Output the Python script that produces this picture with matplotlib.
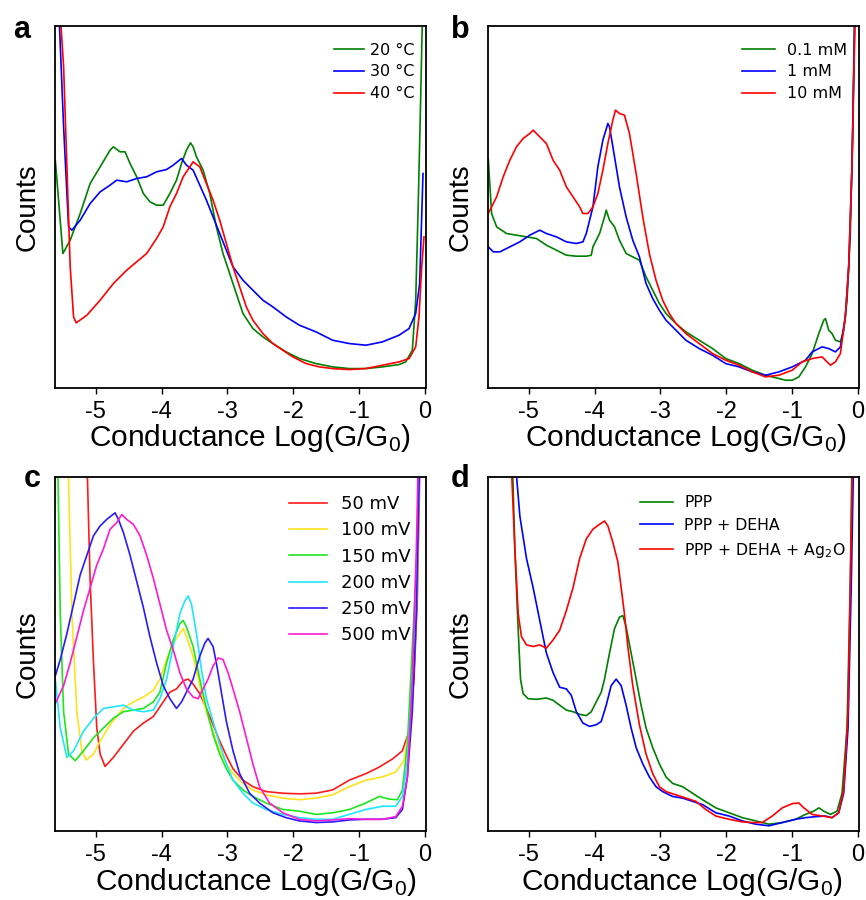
import numpy as np
import matplotlib
matplotlib.use("Agg")
import matplotlib.pyplot as plt

plt.rcParams['font.family'] = ['Liberation Sans', 'DejaVu Sans']
plt.rcParams['mathtext.fontset'] = 'custom'
plt.rcParams['mathtext.rm'] = 'Liberation Sans'

# x: Log(G/G0), y: counts (arbitrary units)

# panel a - temperature
a20_x = [-5.615, -5.500, -5.389, -5.237, -5.086, -4.934, -4.783, -4.733, -4.632, -4.556, -4.480, -4.379,
         -4.278, -4.178, -4.077, -3.976, -3.875, -3.774, -3.698, -3.623, -3.562, -3.522, -3.471, -3.370,
         -3.269, -3.169, -3.068, -2.967, -2.866, -2.765, -2.614, -2.462, -2.311, -2.109, -1.907, -1.655,
         -1.403, -1.150, -0.898, -0.646, -0.394, -0.293, -0.192, -0.141, -0.101, -0.066, -0.035]
a20_y = [68.3, 40.3, 44.3, 52.3, 61.3, 66.3, 71.3, 72.3, 70.8, 70.8, 67.3, 63.3,
         58.3, 55.8, 54.8, 54.8, 58.3, 62.3, 67.3, 71.3, 73.5, 72.3, 69.3, 65.3,
         58.3, 48.3, 40.3, 34.3, 28.3, 22.3, 17.8, 15.3, 13.3, 10.8, 8.8, 7.3,
         6.3, 5.8, 5.8, 6.3, 7.0, 7.8, 11.3, 26.3, 56.3, 86.3, 115]
a30_x = [-5.565, -5.489, -5.414, -5.363, -5.237, -5.086, -4.934, -4.783, -4.682, -4.531, -4.379, -4.228,
         -4.077, -3.925, -3.824, -3.698, -3.623, -3.522, -3.421, -3.320, -3.219, -3.118, -3.017, -2.916,
         -2.765, -2.614, -2.462, -2.311, -2.109, -1.907, -1.655, -1.403, -1.150, -0.898, -0.646, -0.394,
         -0.242, -0.141, -0.081, -0.050, -0.030]
a30_y = [115, 78.3, 48.3, 47.3, 50.3, 55.3, 58.8, 60.8, 62.3, 61.8, 62.8, 63.3,
         64.8, 65.5, 66.8, 68.8, 66.8, 65.3, 60.8, 56.3, 51.3, 46.3, 41.3, 36.3,
         32.3, 29.3, 26.3, 24.3, 21.3, 18.8, 16.8, 14.3, 13.3, 12.8, 13.8, 15.8,
         17.8, 22.3, 31.3, 51.3, 64.3]
a40_x = [-5.550, -5.489, -5.439, -5.389, -5.338, -5.298, -5.136, -4.934, -4.733, -4.531, -4.379, -4.228,
         -4.077, -3.976, -3.875, -3.774, -3.673, -3.572, -3.522, -3.421, -3.320, -3.219, -3.118, -3.017,
         -2.916, -2.815, -2.714, -2.614, -2.462, -2.311, -2.159, -2.008, -1.806, -1.604, -1.403, -1.150,
         -0.898, -0.646, -0.394, -0.242, -0.141, -0.091, -0.050, -0.015]
a40_y = [115, 96.3, 66.3, 36.3, 21.3, 19.5, 21.8, 26.3, 31.3, 35.3, 37.8, 40.3,
         44.8, 48.3, 54.3, 58.3, 63.3, 66.3, 67.8, 66.3, 61.3, 56.3, 50.3, 43.3,
         36.3, 30.3, 24.3, 20.3, 16.3, 13.3, 11.3, 9.3, 7.3, 6.3, 5.8, 5.5,
         5.8, 6.8, 7.8, 8.8, 12.3, 21.3, 36.3, 45.3]

# panel b - concentration
b01_x = [-5.615, -5.565, -5.489, -5.338, -5.187, -5.035, -4.884, -4.733, -4.581, -4.430, -4.278, -4.127,
         -4.051, -4.026, -3.925, -3.850, -3.824, -3.774, -3.698, -3.623, -3.522, -3.421, -3.320, -3.219,
         -3.118, -3.017, -2.916, -2.765, -2.614, -2.412, -2.210, -2.008, -1.806, -1.604, -1.403, -1.201,
         -1.100, -0.999, -0.898, -0.797, -0.696, -0.595, -0.520, -0.494, -0.444, -0.394, -0.343, -0.267,
         -0.217, -0.166, -0.116, -0.081, -0.050]
b01_y = [68.3, 52.3, 48.3, 46.3, 45.8, 45.3, 44.8, 42.8, 41.3, 39.8, 39.5, 39.5,
         39.8, 42.3, 46.3, 51.3, 53.3, 50.3, 48.3, 44.3, 40.3, 39.3, 38.3, 33.3,
         29.3, 25.3, 22.3, 19.3, 16.8, 14.3, 11.8, 8.8, 7.3, 5.3, 3.8, 2.8,
         2.3, 2.3, 3.3, 6.3, 10.3, 16.3, 20.3, 20.8, 17.3, 16.3, 14.3, 13.8,
         17.3, 26.3, 46.3, 76.3, 115]
b1_x = [-5.615, -5.540, -5.439, -5.288, -5.136, -4.985, -4.834, -4.733, -4.581, -4.430, -4.278, -4.178,
        -4.127, -4.026, -3.951, -3.875, -3.799, -3.774, -3.698, -3.623, -3.522, -3.421, -3.320, -3.219,
        -3.118, -3.017, -2.916, -2.765, -2.614, -2.412, -2.210, -2.008, -1.806, -1.604, -1.403, -1.201,
        -0.999, -0.797, -0.696, -0.545, -0.444, -0.343, -0.267, -0.192, -0.141, -0.091, -0.045]
b1_y = [42.3, 40.8, 40.8, 42.3, 43.8, 45.8, 47.3, 46.3, 45.3, 43.8, 43.3, 43.8,
        46.3, 54.3, 66.3, 74.3, 79.3, 78.3, 69.3, 60.3, 51.3, 44.3, 39.3, 31.3,
        26.8, 23.3, 20.3, 17.3, 14.3, 11.8, 9.8, 7.3, 6.3, 4.8, 3.8, 4.8,
        6.3, 8.3, 10.8, 12.3, 11.8, 10.8, 12.3, 21.3, 36.3, 66.3, 115]
b10_x = [-5.615, -5.565, -5.489, -5.389, -5.288, -5.187, -5.086, -4.985, -4.934, -4.834, -4.733, -4.632,
         -4.531, -4.430, -4.329, -4.228, -4.178, -4.102, -4.026, -3.951, -3.875, -3.799, -3.724, -3.683,
         -3.623, -3.547, -3.471, -3.370, -3.269, -3.169, -3.068, -2.967, -2.866, -2.765, -2.614, -2.412,
         -2.210, -2.008, -1.806, -1.604, -1.403, -1.201, -0.999, -0.848, -0.696, -0.545, -0.469, -0.419,
         -0.343, -0.267, -0.192, -0.141, -0.091, -0.040]
b10_y = [52.3, 54.3, 57.3, 63.3, 68.3, 72.3, 74.8, 76.3, 77.3, 75.3, 73.3, 68.3,
         65.3, 60.3, 57.3, 54.3, 52.3, 52.3, 54.3, 58.3, 65.3, 73.3, 80.3, 83.3,
         82.3, 81.8, 76.3, 64.3, 51.3, 40.3, 32.3, 26.3, 22.3, 19.3, 16.3, 13.3,
         10.3, 8.3, 6.8, 4.8, 3.3, 3.8, 5.3, 7.8, 8.8, 9.3, 7.8, 6.8,
         7.8, 10.3, 21.3, 36.3, 66.3, 115]

# panel c - bias voltage
c50_x = [-5.136, -5.086, -5.035, -4.985, -4.934, -4.859, -4.733, -4.581, -4.430, -4.278, -4.127, -3.976,
         -3.875, -3.774, -3.673, -3.597, -3.522, -3.421, -3.320, -3.219, -3.118, -3.017, -2.916, -2.765,
         -2.614, -2.412, -2.159, -1.907, -1.655, -1.403, -1.150, -0.898, -0.696, -0.494, -0.343, -0.242,
         -0.166, -0.116, -0.075]
c50_y = [115, 76.5, 51.5, 31.5, 23.5, 19.7, 22.5, 26.5, 30.5, 33.0, 35.0, 39.5,
         42.5, 43.5, 46.0, 46.5, 45.0, 42.0, 37.5, 32.5, 27.5, 23.0, 19.0, 15.5,
         13.5, 12.0, 11.5, 11.3, 11.5, 12.5, 15.5, 17.5, 19.5, 22.0, 24.5, 30.5,
         46.5, 71.5, 115]
c100_x = [-5.424, -5.363, -5.288, -5.212, -5.146, -5.035, -4.934, -4.783, -4.581, -4.430, -4.278, -4.127,
          -4.026, -3.925, -3.824, -3.724, -3.673, -3.623, -3.522, -3.421, -3.320, -3.219, -3.118, -3.017,
          -2.916, -2.765, -2.614, -2.412, -2.159, -1.907, -1.655, -1.403, -1.150, -0.898, -0.646, -0.444,
          -0.318, -0.242, -0.166, -0.116, -0.081]
c100_y = [115, 66.5, 36.5, 24.5, 21.7, 23.5, 27.5, 32.5, 37.5, 39.5, 41.0, 43.0,
          46.5, 52.5, 57.5, 60.5, 62.0, 59.5, 53.5, 44.5, 36.5, 30.5, 24.5, 20.5,
          17.5, 14.5, 12.5, 11.0, 10.0, 9.5, 10.0, 11.0, 13.5, 15.5, 16.5, 18.0,
          21.5, 31.5, 51.5, 76.5, 115]
c150_x = [-5.580, -5.540, -5.489, -5.414, -5.313, -5.187, -5.035, -4.884, -4.733, -4.581, -4.430, -4.278,
          -4.127, -4.026, -3.925, -3.824, -3.724, -3.673, -3.623, -3.522, -3.421, -3.320, -3.219, -3.118,
          -3.017, -2.916, -2.765, -2.614, -2.412, -2.159, -1.907, -1.655, -1.403, -1.150, -0.898, -0.696,
          -0.545, -0.419, -0.343, -0.267, -0.192, -0.116, -0.081]
c150_y = [115, 66.5, 36.5, 23.5, 21.5, 24.5, 28.5, 31.5, 34.5, 36.5, 37.0, 37.5,
          39.5, 42.5, 51.5, 58.5, 63.5, 64.5, 62.5, 56.5, 46.5, 37.5, 29.5, 23.5,
          19.0, 15.5, 12.5, 10.5, 8.5, 6.5, 6.0, 5.0, 5.5, 6.5, 8.5, 10.5,
          9.7, 9.5, 12.5, 26.5, 56.5, 86.5, 115]
c200_x = [-5.615, -5.540, -5.439, -5.338, -5.187, -5.035, -4.884, -4.733, -4.581, -4.430, -4.278, -4.127,
          -4.026, -3.925, -3.824, -3.724, -3.648, -3.597, -3.547, -3.471, -3.396, -3.320, -3.219, -3.118,
          -3.017, -2.916, -2.765, -2.614, -2.412, -2.159, -1.907, -1.655, -1.403, -1.150, -0.898, -0.646,
          -0.444, -0.343, -0.267, -0.192, -0.116, -0.081]
c200_y = [46.5, 31.5, 22.5, 24.5, 30.5, 34.5, 37.5, 38.0, 38.5, 37.0, 36.5, 37.0,
          40.5, 46.5, 56.5, 66.5, 70.5, 72.0, 69.5, 60.5, 49.5, 40.5, 33.5, 26.5,
          20.5, 15.5, 11.5, 8.5, 6.5, 5.0, 4.0, 3.5, 3.5, 5.0, 6.5, 7.5,
          7.5, 10.5, 21.5, 46.5, 86.5, 115]
c250_x = [-5.615, -5.540, -5.439, -5.338, -5.237, -5.136, -5.035, -4.934, -4.834, -4.707, -4.657, -4.581,
          -4.480, -4.379, -4.278, -4.178, -4.077, -3.976, -3.875, -3.774, -3.698, -3.623, -3.522, -3.421,
          -3.345, -3.295, -3.219, -3.169, -3.093, -3.017, -2.916, -2.815, -2.664, -2.513, -2.311, -2.109,
          -1.907, -1.655, -1.403, -1.150, -0.898, -0.646, -0.444, -0.343, -0.267, -0.192, -0.131, -0.081]
c250_y = [47.5, 52.5, 60.5, 69.5, 78.5, 84.5, 90.5, 93.5, 95.5, 97.5, 95.5, 91.5,
          84.5, 76.5, 68.5, 59.5, 51.5, 44.5, 40.5, 37.5, 39.5, 42.5, 46.5, 53.5,
          57.5, 59.0, 56.5, 51.5, 42.5, 33.5, 24.5, 17.5, 11.5, 8.5, 5.5, 4.0,
          3.0, 2.5, 2.7, 3.3, 3.5, 3.5, 4.0, 6.5, 16.5, 36.5, 66.5, 115]
c500_x = [-5.615, -5.489, -5.389, -5.288, -5.187, -5.086, -4.985, -4.884, -4.783, -4.682, -4.606, -4.531,
          -4.430, -4.329, -4.228, -4.127, -4.026, -3.925, -3.824, -3.724, -3.623, -3.522, -3.446, -3.370,
          -3.295, -3.219, -3.143, -3.068, -2.992, -2.916, -2.815, -2.714, -2.614, -2.513, -2.361, -2.159,
          -1.907, -1.655, -1.403, -1.150, -0.898, -0.646, -0.444, -0.343, -0.267, -0.192, -0.131, -0.101]
c500_y = [39.0, 44.5, 51.5, 59.5, 67.5, 74.5, 81.5, 86.5, 92.5, 94.5, 97.0, 95.5,
          94.0, 90.5, 84.5, 77.5, 69.5, 61.5, 55.5, 48.5, 43.5, 41.0, 40.5, 43.5,
          46.5, 50.5, 53.0, 52.5, 48.5, 43.5, 36.5, 28.5, 20.5, 13.5, 8.5, 5.5,
          3.5, 3.0, 3.3, 3.7, 3.5, 3.5, 4.3, 7.5, 16.5, 46.5, 86.5, 115]

# panel d - additives
dppp_x = [-5.252, -5.212, -5.161, -5.126, -5.086, -5.010, -4.884, -4.733, -4.632, -4.531, -4.430, -4.329,
          -4.228, -4.127, -4.051, -3.976, -3.900, -3.850, -3.774, -3.698, -3.623, -3.572, -3.522, -3.446,
          -3.370, -3.295, -3.219, -3.118, -3.017, -2.916, -2.815, -2.664, -2.513, -2.361, -2.159, -1.958,
          -1.756, -1.554, -1.352, -1.150, -0.949, -0.797, -0.671, -0.595, -0.520, -0.419, -0.318, -0.242,
          -0.166, -0.116, -0.091]
dppp_y = [115, 86.5, 61.5, 46.5, 42.0, 40.5, 40.3, 40.7, 40.0, 38.5, 37.0, 36.5,
          35.7, 35.3, 36.5, 39.5, 42.5, 46.5, 54.5, 62.0, 65.5, 66.0, 62.5, 54.5,
          46.5, 38.5, 31.5, 25.5, 20.5, 16.5, 14.5, 13.5, 11.5, 9.5, 7.0, 5.5,
          4.0, 3.0, 2.0, 2.5, 3.5, 5.0, 6.0, 7.0, 6.0, 5.0, 6.0, 11.5,
          31.5, 76.5, 115]
ddeha_x = [-5.212, -5.136, -5.035, -4.934, -4.834, -4.733, -4.632, -4.531, -4.430, -4.354, -4.278, -4.178,
           -4.077, -3.976, -3.900, -3.824, -3.749, -3.673, -3.597, -3.522, -3.446, -3.370, -3.269, -3.169,
           -3.068, -2.967, -2.815, -2.664, -2.513, -2.361, -2.159, -1.958, -1.756, -1.554, -1.352, -1.150,
           -0.949, -0.797, -0.646, -0.494, -0.394, -0.293, -0.217, -0.151, -0.101, -0.066]
ddeha_y = [115, 96.5, 83.5, 74.5, 64.5, 54.5, 48.5, 44.0, 43.5, 41.5, 36.5, 33.0,
           32.0, 32.5, 33.5, 38.5, 44.5, 46.5, 44.5, 38.5, 31.5, 25.5, 20.5, 16.5,
           13.5, 12.0, 10.5, 10.0, 9.0, 8.0, 5.5, 4.5, 3.0, 2.0, 1.5, 2.5,
           3.5, 4.0, 4.3, 4.5, 4.0, 5.5, 11.5, 31.5, 76.5, 115]
dag_x = [-5.272, -5.212, -5.161, -5.111, -5.035, -4.934, -4.834, -4.733, -4.632, -4.531, -4.430, -4.329,
         -4.228, -4.127, -4.026, -3.925, -3.850, -3.799, -3.724, -3.648, -3.597, -3.547, -3.496, -3.421,
         -3.320, -3.219, -3.118, -3.017, -2.916, -2.765, -2.614, -2.462, -2.311, -2.159, -1.958, -1.756,
         -1.604, -1.453, -1.302, -1.150, -0.999, -0.898, -0.822, -0.696, -0.545, -0.394, -0.293, -0.217,
         -0.151, -0.116, -0.081]
dag_y = [115, 86.5, 66.5, 59.5, 57.0, 56.5, 57.0, 56.0, 58.5, 61.5, 67.5, 74.5,
         83.5, 89.5, 92.5, 94.0, 95.0, 93.5, 88.5, 82.5, 74.5, 66.5, 56.5, 44.5,
         32.5, 23.5, 17.5, 13.5, 12.0, 11.0, 10.0, 9.0, 6.5, 4.5, 3.5, 2.7,
         2.5, 2.5, 4.5, 7.0, 8.3, 8.5, 7.0, 5.0, 4.5, 4.0, 5.5, 12.5,
         36.5, 76.5, 115]

xticks = [-5, -4, -3, -2, -1, 0]
xticklabels = ['-5', '-4', '-3', '-2', '-1', '0']

panels = [
    ('a', [(a20_x, a20_y, 'green', '20 °C'), (a30_x, a30_y, 'blue', '30 °C'), (a40_x, a40_y, 'red', '40 °C')]),
    ('b', [(b01_x, b01_y, 'green', '0.1 mM'), (b1_x, b1_y, 'blue', '1 mM'), (b10_x, b10_y, 'red', '10 mM')]),
    ('c', [(c50_x, c50_y, '#ff1a1a', '50 mV'), (c100_x, c100_y, '#ffe21a', '100 mV'),
           (c150_x, c150_y, '#1ee61e', '150 mV'), (c200_x, c200_y, '#1ee6ff', '200 mV'),
           (c250_x, c250_y, '#2a1aff', '250 mV'), (c500_x, c500_y, '#ff1ad2', '500 mV')]),
    ('d', [(dppp_x, dppp_y, 'green', 'PPP'), (ddeha_x, ddeha_y, 'blue', 'PPP + DEHA'),
           (dag_x, dag_y, 'red', 'PPP + DEHA + Ag$_\\mathregular{2}$O')]),
]

fig = plt.figure(figsize=(8.66, 9), dpi=100)
rects = [[0.0635, 0.569, 0.428, 0.402], [0.5635, 0.569, 0.428, 0.402],
         [0.0635, 0.077, 0.428, 0.393], [0.5635, 0.077, 0.428, 0.393]]
letter_pos = [(0.015, 0.958), (0.521, 0.958), (0.027, 0.459), (0.520, 0.459)]
# legend: font size, handle length, text pad, row spacing, anchor x, anchor y
leg_opts = [(11.5, 1.9, 0.35, 0.42, 1.0, 0.985),
            (11.5, 2.1, 0.75, 0.42, 1.0, 0.985),
            (13.0, 2.1, 0.75, 0.46, 0.993, 0.985),
            (11.3, 2.1, 0.75, 0.5, 0.995, 0.98)]
xlabel_x = [0.525, 0.534, 0.541, 0.523]
xlabel_y = [-0.095, -0.095, -0.099, -0.099]

for i, (letter, curves) in enumerate(panels):
    ax = fig.add_axes(rects[i])
    for x, y, c, lab in curves:
        ax.plot(x, y, color=c, lw=1.2, label=lab)
    ax.set_xlim(-5.62, 0.01)
    ax.set_ylim(0, 108.5)
    ax.set_yticks([])
    ax.set_xticks(xticks)
    ax.set_xticklabels(xticklabels, fontsize=17)
    ax.tick_params(axis='x', direction='out', length=4, width=1, pad=5.5)
    for s in ax.spines.values():
        s.set_linewidth(1.3)
    ax.set_xlabel('Conductance Log(G/G$_\\mathregular{0}$)', fontsize=21.5, labelpad=0)
    ax.xaxis.set_label_coords(xlabel_x[i], xlabel_y[i])
    ax.set_ylabel('Counts', fontsize=20, labelpad=10)
    fs, hl, hp, ls, bx, by = leg_opts[i]
    ax.legend(loc='upper right', bbox_to_anchor=(bx, by), frameon=False, handlelength=hl,
              handletextpad=hp, labelspacing=ls, borderaxespad=0.3,
              prop={'family': 'DejaVu Sans', 'size': fs})
    fig.text(letter_pos[i][0], letter_pos[i][1], letter, fontsize=22, fontweight='bold')

fig.savefig('out.png', dpi=100)
